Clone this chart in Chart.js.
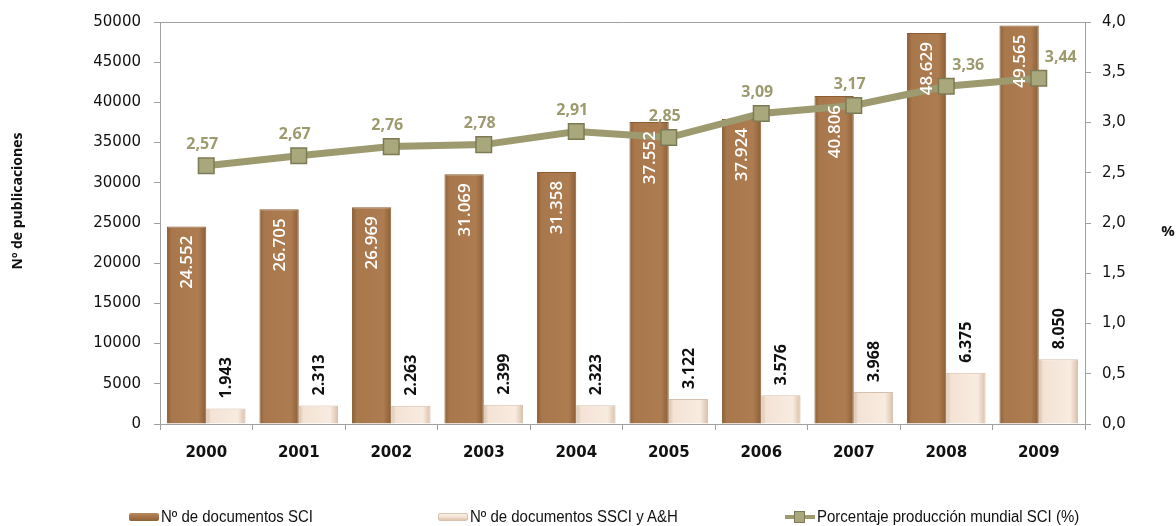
<!DOCTYPE html>
<html>
<head>
<meta charset="utf-8">
<script src="https://cdn.jsdelivr.net/npm/chart.js@4"></script>
<style>
  body { margin: 0; background: #fff; }
  #wrap { position: relative; width: 1176px; height: 526px; }
  .leg { position: absolute; top: 508px; height: 18px; font: 16px "Liberation Sans", Arial, sans-serif; color: #111; white-space: nowrap; }
  .leg .caja { position: absolute; left: 0; top: 5px; width: 30px; }
  .leg .txt { position: absolute; left: 32px; top: 0; transform-origin: 0 50%; display: inline-block; }
</style>
</head>
<body>
<div id="wrap">
  <canvas id="grafico" width="1176" height="526"></canvas>
  <div class="leg" style="left:129px"><span class="caja" style="height:8px;background:linear-gradient(#b88a5e,#a8764a 40%,#8f6237);border-radius:2px"></span><span class="txt">Nº de documentos SCI</span></div>
  <div class="leg" style="left:438px"><span class="caja" style="height:8px;background:linear-gradient(#fbf1e8,#f3e2d4 50%,#dcc3ad);border:1px solid #d8c3b2;box-sizing:border-box;border-radius:2px"></span><span class="txt">Nº de documentos SSCI y A&amp;H</span></div>
  <div class="leg" style="left:785px"><span class="caja" style="height:12px;top:3px"><i style="position:absolute;left:0;top:4px;width:30px;height:4px;background:#9c9a6e"></i><i style="position:absolute;left:9px;top:0;width:11px;height:12px;background:#a9a77c;border:1px solid #7d7b55;box-sizing:border-box"></i></span><span class="txt">Porcentaje producción mundial SCI (%)</span></div>
</div>
<script>
var anios = ['2000', '2001', '2002', '2003', '2004', '2005', '2006', '2007', '2008', '2009']
var docsSCI = [24552, 26705, 26969, 31069, 31358, 37552, 37924, 40806, 48629, 49565]
var docsSSCI = [1943, 2313, 2263, 2399, 2323, 3122, 3576, 3968, 6375, 8050]
var porcentaje = [2.57, 2.67, 2.76, 2.78, 2.91, 2.85, 3.09, 3.17, 3.36, 3.44]

// la leyenda usa una letra estrecha: se comprime a lo ancho
var textos = document.querySelectorAll('.leg .txt')
var escala = 152 / textos[0].getBoundingClientRect().width
textos.forEach(function (t) { t.style.transform = 'scaleX(' + escala + ')' })

function miles(v) {
  return String(v).replace(/\B(?=(\d{3})+(?!\d))/g, '.')
}
function coma(v, d) {
  return v.toFixed(d).replace('.', ',')
}

// degradado horizontal para dar relieve a cada barra
function relieve(colores, lado) {
  return function (context) {
    var chart = context.chart
    var xs = chart.scales.x
    if (!xs || context.dataIndex === undefined) return colores[1]
    var ancho = xs.width / anios.length * 0.85 / 2
    var centro = xs.getPixelForValue(context.dataIndex)
    if (!isFinite(ancho) || !isFinite(centro) || ancho <= 0) return colores[1]
    var x0 = lado === 0 ? centro - ancho : centro
    var g = chart.ctx.createLinearGradient(x0, 0, x0 + ancho, 0)
    g.addColorStop(0, colores[0])
    g.addColorStop(0.12, colores[1])
    g.addColorStop(0.8, colores[2])
    g.addColorStop(1, colores[0])
    return g
  }
}

// etiquetas de valores y titulos de ejes
var etiquetas = {
  id: 'etiquetas',
  afterDatasetsDraw: function (chart) {
    var ctx = chart.ctx
    ctx.save()
    // SCI: texto blanco vertical dentro de la barra
    chart.getDatasetMeta(0).data.forEach(function (bar, i) {
      ctx.save()
      ctx.translate(bar.x + 1, bar.y + 9)
      ctx.rotate(-Math.PI / 2)
      ctx.font = '600 17px "Open Sans", sans-serif'
      ctx.fillStyle = '#ffffff'
      ctx.textAlign = 'right'
      ctx.textBaseline = 'middle'
      ctx.fillText(miles(docsSCI[i]), 0, 0)
      ctx.restore()
    })
    // SSCI: texto negro vertical encima de la barra
    chart.getDatasetMeta(1).data.forEach(function (bar, i) {
      ctx.save()
      ctx.translate(bar.x + 1, bar.y - 10)
      ctx.rotate(-Math.PI / 2)
      ctx.font = 'bold 16px "Open Sans", sans-serif'
      ctx.fillStyle = '#111111'
      ctx.textAlign = 'left'
      ctx.textBaseline = 'middle'
      ctx.fillText(miles(docsSSCI[i]), 0, 0)
      ctx.restore()
    })
    // porcentaje encima del punto
    chart.getDatasetMeta(2).data.forEach(function (pt, i) {
      ctx.font = 'bold 16px "Open Sans", sans-serif'
      ctx.fillStyle = '#9c9a6e'
      ctx.textAlign = 'center'
      ctx.textBaseline = 'bottom'
      var dx = i >= 8 ? 22 : -4
      ctx.fillText(coma(porcentaje[i], 2), pt.x + dx, pt.y - 13)
    })
    ctx.restore()
  },
  afterDraw: function (chart) {
    var ctx = chart.ctx
    ctx.save()
    ctx.fillStyle = '#111'
    ctx.textAlign = 'center'
    ctx.textBaseline = 'middle'
    ctx.font = 'bold 14px "Open Sans", sans-serif'
    ctx.translate(18, 201)
    ctx.rotate(-Math.PI / 2)
    ctx.fillText('Nº de publicaciones', 0, 0)
    ctx.restore()
    ctx.save()
    ctx.fillStyle = '#111'
    ctx.textAlign = 'center'
    ctx.textBaseline = 'middle'
    ctx.font = 'bold 15px "Open Sans", sans-serif'
    ctx.fillText('%', 1168, 232)
    ctx.restore()
  }
}

var ctx = document.getElementById('grafico').getContext('2d')
var grafico = new Chart(ctx, {
  type: 'bar',
  data: {
    labels: anios,
    datasets: [{
      label: 'Nº de documentos SCI',
      data: docsSCI,
      backgroundColor: relieve(['#8c5e35', '#a8774c', '#ad7c51'], 0),
      borderColor: '#8a5d34',
      borderWidth: 1,
      yAxisID: 'y',
      order: 2
    }, {
      label: 'Nº de documentos SSCI y A&H',
      data: docsSSCI,
      backgroundColor: relieve(['#d9bfa9', '#f4e3d5', '#f8ebe0'], 1),
      borderColor: '#d5bfae',
      borderWidth: 1,
      yAxisID: 'y',
      order: 2
    }, {
      type: 'line',
      label: 'Porcentaje producción mundial SCI (%)',
      data: porcentaje,
      borderColor: '#9c9a6e',
      borderWidth: 7,
      backgroundColor: '#a9a77c',
      pointStyle: 'rect',
      pointRadius: 11,
      pointBorderColor: '#7d7b55',
      pointBorderWidth: 1.5,
      tension: 0,
      yAxisID: 'y1',
      order: 1
    }]
  },
  options: {
    responsive: false,
    animation: false,
    layout: { padding: { top: 19, left: 0, right: 0, bottom: 0 } },
    datasets: { bar: { categoryPercentage: 0.85, barPercentage: 1 } },
    plugins: { legend: { display: false }, tooltip: { enabled: false } },
    scales: {
      x: {
        grid: { display: true, drawOnChartArea: false, tickLength: 6, color: '#a0a0a0', offset: true },
        border: { color: '#a0a0a0' },
        ticks: { color: '#111', font: { family: 'DejaVu Sans', size: 15, weight: 'bold' }, padding: 14 },
        afterFit: function (s) { s.height = 102 }
      },
      y: {
        position: 'left',
        min: 0,
        max: 50000,
        ticks: { stepSize: 5000, color: '#111', font: { family: 'DejaVu Sans', size: 15 }, padding: 13, callback: function (v) { return String(v) } },
        grid: { drawOnChartArea: false, tickLength: 6, color: '#a0a0a0' },
        border: { color: '#a0a0a0' },
        afterFit: function (s) { s.width = 160 }
      },
      y1: {
        position: 'right',
        min: 0,
        max: 4,
        ticks: { stepSize: 0.5, color: '#111', font: { family: 'DejaVu Sans', size: 15 }, padding: 11, callback: function (v) { return coma(v, 1) } },
        grid: { drawOnChartArea: false, tickLength: 6, color: '#a0a0a0' },
        border: { color: '#a0a0a0' },
        afterFit: function (s) { s.width = 91 }
      }
    }
  },
  plugins: [etiquetas, {
    id: 'bordeSuperior',
    beforeDatasetsDraw: function (chart) {
      var a = chart.chartArea
      chart.ctx.save()
      chart.ctx.strokeStyle = '#a0a0a0'
      chart.ctx.lineWidth = 1
      chart.ctx.beginPath()
      chart.ctx.moveTo(a.left, a.top + 0.5)
      chart.ctx.lineTo(a.right, a.top + 0.5)
      chart.ctx.stroke()
      chart.ctx.restore()
    }
  }]
})
// segunda pasada para que los degradados usen la escala ya calculada
grafico.update()
</script>
</body>
</html>
